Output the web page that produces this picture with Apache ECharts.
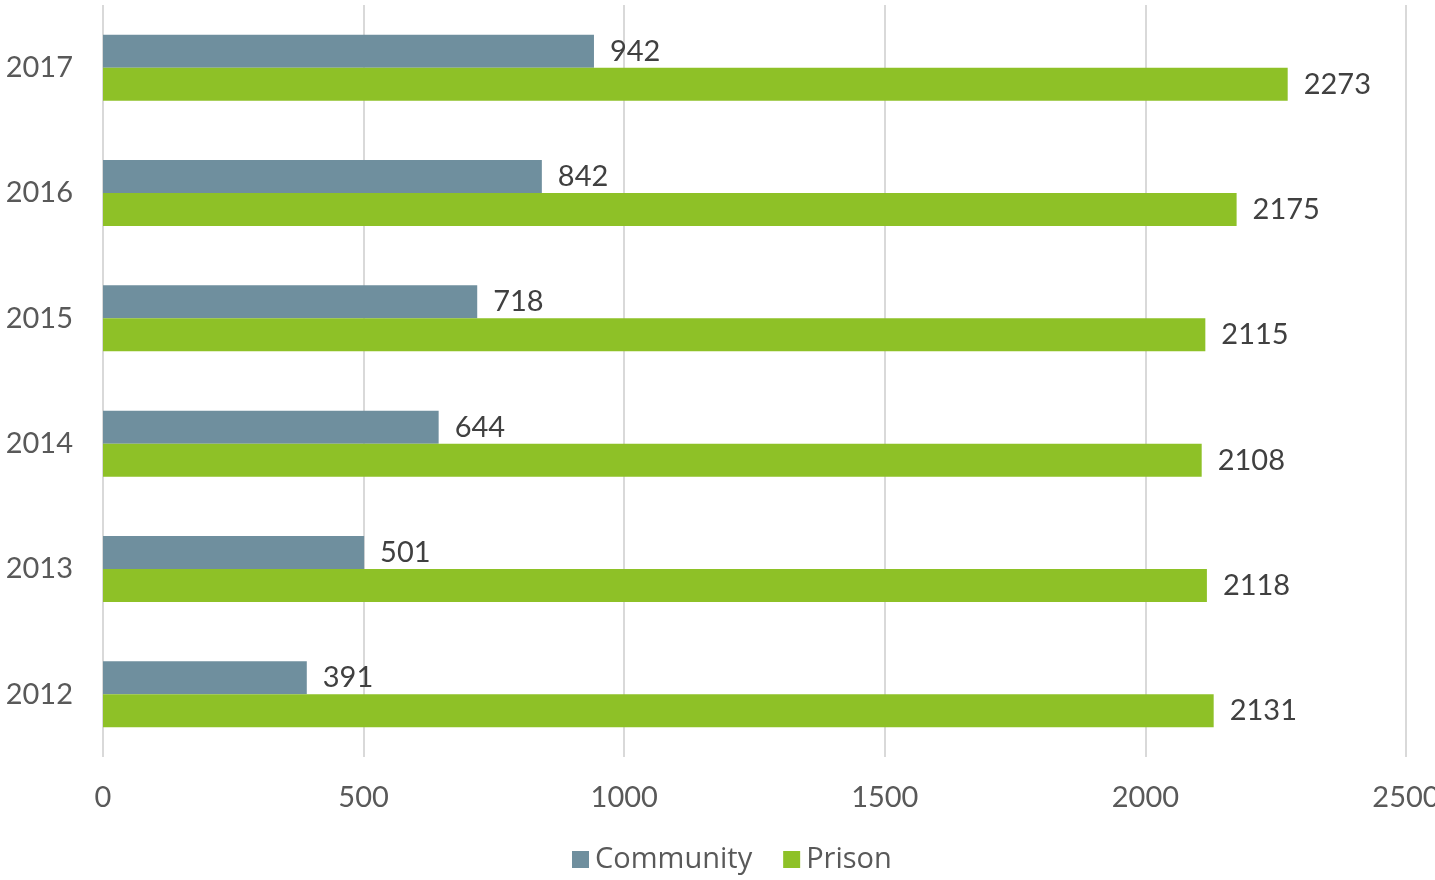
<!DOCTYPE html>
<html>
<head>
<meta charset="utf-8">
<script src="https://cdn.jsdelivr.net/npm/echarts@6/dist/echarts.min.js"></script>
<style>html,body{margin:0;padding:0;background:#fff}#c{width:1435px;height:880px}</style>
</head>
<body>
<div id="c"></div>
<script>
const years = ['2012', '2013', '2014', '2015', '2016', '2017'];
const community = [391, 501, 644, 718, 842, 942];
const prison = [2131, 2118, 2108, 2115, 2175, 2273];
const xTicks = { min: 0, max: 2500, interval: 500 };

const FONT = 'Lato';
const chart = echarts.init(document.getElementById('c'), null, { renderer: 'canvas' });
const label = { show: true, position: 'right', distance: 16, color: '#404040', fontSize: 29, fontFamily: FONT };
chart.setOption({
  animation: false,
  textStyle: { fontFamily: FONT },
  grid: { left: 103, right: 29, top: 5, bottom: 123, containLabel: false, outerBoundsMode: 'none' },
  legend: {
    bottom: 6, left: 572, itemWidth: 17, itemHeight: 17, itemGap: 31,
    icon: 'rect', padding: 0,
    textStyle: { color: '#595959', fontSize: 29, fontFamily: 'Open Sans', padding: [0, 0, 0, 1] },
    data: ['Community', 'Prison']
  },
  xAxis: {
    type: 'value', min: xTicks.min, max: xTicks.max, interval: xTicks.interval,
    axisLine: { show: false }, axisTick: { show: false },
    splitLine: { show: true, lineStyle: { color: '#d9d9d9', width: 2 } },
    axisLabel: { color: '#595959', fontSize: 29, fontFamily: FONT, margin: 26, formatter: v => String(v) }
  },
  yAxis: {
    type: 'category', data: years,
    axisLine: { show: false }, axisTick: { show: false },
    axisLabel: { color: '#595959', fontSize: 29, fontFamily: FONT, margin: 30 }
  },
  series: [
    { name: 'Community', type: 'bar', data: community, barWidth: 33, barGap: '0%',
      itemStyle: { color: '#6f8f9e' }, label: label },
    { name: 'Prison', type: 'bar', data: prison, barWidth: 33, barGap: '0%',
      itemStyle: { color: '#8ec127' }, label: label }
  ]
});
</script>
</body>
</html>
